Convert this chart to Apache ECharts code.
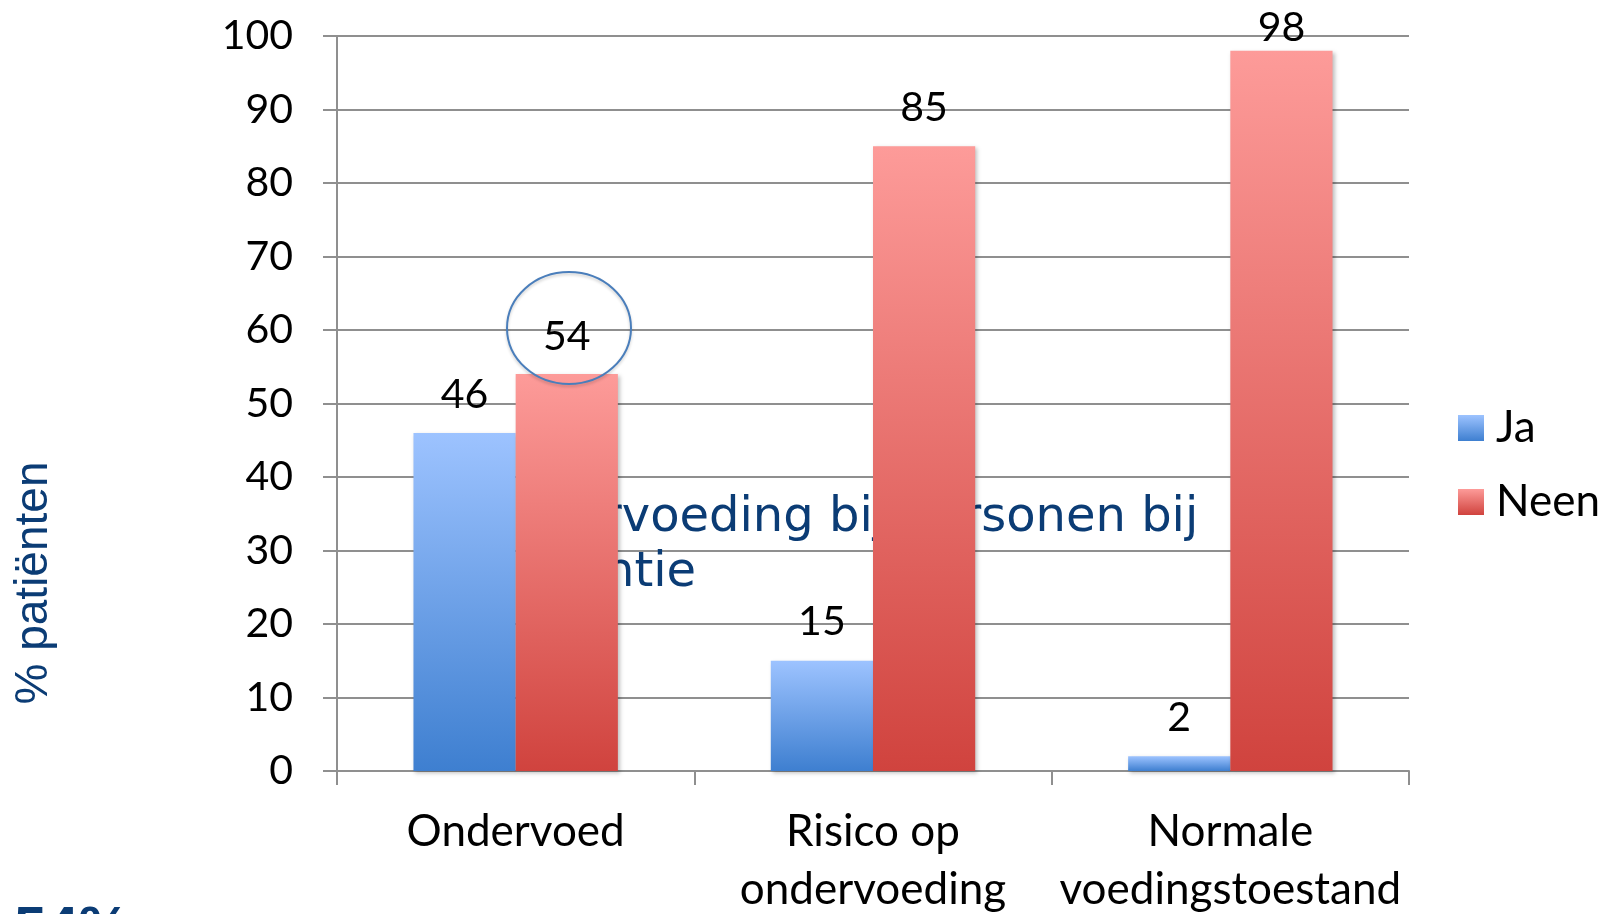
<!DOCTYPE html>
<html>
<head>
<meta charset="utf-8">
<script src="https://cdn.jsdelivr.net/npm/echarts@6/dist/echarts.min.js"></script>
<style>
  html, body { margin: 0; padding: 0; background: #fff; }
  #chart-container { width: 1601px; height: 914px; }
</style>
</head>
<body>
<div id="chart-container"></div>
<script>
var categories = ['Ondervoed', 'Risico op\nondervoeding', 'Normale\nvoedingstoestand'];
var jaValues = [46, 15, 2];
var neenValues = [54, 85, 98];
var yTicks = { min: 0, max: 100, interval: 10 };

var chartDom = document.getElementById('chart-container');
var myChart = echarts.init(chartDom);
var option;

var labelFont = 'Lato';
var gray = '#8f8f8f';
var darkBlue = '#0b3c75';

function grad(top, bottom) {
  return new echarts.graphic.LinearGradient(0, 0, 0, 1, [
    { offset: 0, color: top },
    { offset: 1, color: bottom }
  ]);
}

var barShadow = {
  shadowColor: 'rgba(0,0,0,0.25)',
  shadowBlur: 4,
  shadowOffsetX: 2,
  shadowOffsetY: 2
};

// per-bar label tweaks, the way they sit in the original
var neenData = neenValues.map(function (v, i) {
  var item = { value: v };
  if (i === 0) item.label = { offset: [0, 1] };
  if (i === 2) item.label = { offset: [0, 16] };
  return item;
});

var dataLabel = {
  show: true,
  position: 'top',
  distance: 18,
  fontFamily: labelFont,
  fontSize: 41,
  color: '#000'
};

var slideText = {
  fontFamily: 'DejaVu Sans',
  fontSize: 48,
  fill: darkBlue,
  verticalAlign: 'middle'
};

option = {
  animation: false,
  backgroundColor: '#fff',
  grid: { left: 337, right: 192, top: 36, bottom: 143, outerBoundsMode: 'none' },
  legend: {
    orient: 'vertical',
    left: 1453,
    top: 399,
    icon: 'rect',
    itemWidth: 26,
    itemHeight: 26,
    itemGap: 26,
    textStyle: {
      fontFamily: labelFont,
      fontSize: 44,
      color: '#000',
      lineHeight: 48,
      padding: [0, 0, 0, 7]
    },
    data: ['Ja', 'Neen']
  },
  xAxis: {
    type: 'category',
    data: categories,
    axisLine: { lineStyle: { color: gray, width: 2 } },
    axisTick: { show: true, length: 14, interval: 0, lineStyle: { color: gray, width: 2 } },
    axisLabel: {
      interval: 0,
      margin: 32,
      fontFamily: labelFont,
      fontSize: 44,
      lineHeight: 58,
      color: '#000'
    }
  },
  yAxis: {
    type: 'value',
    min: yTicks.min,
    max: yTicks.max,
    interval: yTicks.interval,
    axisLine: { show: true, lineStyle: { color: gray, width: 2 } },
    axisTick: { show: true, length: 14, lineStyle: { color: gray, width: 2 } },
    splitLine: { lineStyle: { color: gray, width: 2 } },
    axisLabel: {
      margin: 44,
      fontFamily: labelFont,
      fontSize: 41,
      color: '#000'
    }
  },
  series: [
    {
      name: 'Ja',
      type: 'bar',
      zlevel: 1,
      data: jaValues,
      barWidth: '28.6%',
      barGap: '0%',
      itemStyle: Object.assign({ color: grad('#9dc3ff', '#3e7fd0') }, barShadow),
      label: dataLabel
    },
    {
      name: 'Neen',
      type: 'bar',
      zlevel: 1,
      data: neenData,
      barWidth: '28.6%',
      barGap: '0%',
      itemStyle: Object.assign({ color: grad('#fd9b99', '#d0433e') }, barShadow),
      label: dataLabel
    }
  ],
  graphic: [
    // slide text that sits behind the bars
    {
      type: 'text',
      zlevel: 0,
      z: 1,
      x: 602,
      y: 519,
      style: Object.assign({ text: 'rvoeding bij personen bij' }, slideText)
    },
    {
      type: 'text',
      zlevel: 0,
      z: 1,
      x: 604,
      y: 574,
      style: Object.assign({ text: 'ntie' }, slideText)
    },
    {
      type: 'text',
      zlevel: 2,
      x: 34,
      y: 583,
      rotation: Math.PI / 2,
      style: {
        text: '% patiënten',
        fontFamily: 'Liberation Sans',
        fontSize: 46,
        fill: darkBlue,
        align: 'center',
        verticalAlign: 'middle'
      }
    },
    {
      type: 'text',
      zlevel: 2,
      x: 14,
      y: 902,
      style: {
        text: '54%',
        fontFamily: 'Liberation Sans',
        fontWeight: 'bold',
        fontSize: 58,
        fill: darkBlue,
        verticalAlign: 'top'
      }
    },
    {
      type: 'ellipse',
      zlevel: 2,
      shape: { cx: 569, cy: 328, rx: 62, ry: 56 },
      style: {
        fill: 'none',
        stroke: '#4a7ebb',
        lineWidth: 2,
        shadowColor: 'rgba(0,0,0,0.2)',
        shadowBlur: 3,
        shadowOffsetY: 2
      }
    }
  ]
};

option && myChart.setOption(option);
</script>
</body>
</html>
